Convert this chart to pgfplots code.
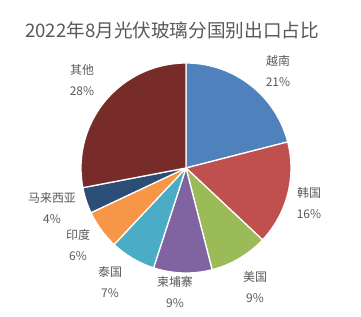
\documentclass[border=0pt]{standalone}
\usepackage{pgfplots}
\usepackage{pgfplotstable}
\pgfplotsset{compat=1.18}
\usepackage{fontspec}
\setmainfont{Noto Sans CJK SC}
\definecolor{c1}{HTML}{4F81BD}
\definecolor{c2}{HTML}{C0504D}
\definecolor{c3}{HTML}{9BBB59}
\definecolor{c4}{HTML}{8064A2}
\definecolor{c5}{HTML}{4BACC6}
\definecolor{c6}{HTML}{F79646}
\definecolor{c7}{HTML}{2C4D75}
\definecolor{c8}{HTML}{772C2A}
\definecolor{txt}{HTML}{595959}
\pgfplotstableread{
name pct col lx ly
越南 21 c1 278 61
韩国 16 c2 309 193
美国 9 c3 255 277
柬埔寨 9 c4 175 282
泰国 7 c5 110 272
印度 6 c6 78 235
马来西亚 4 c7 52 198
其他 28 c8 82 70
}\piedata
\begin{document}
\begin{tikzpicture}
\begin{axis}[
  scale only axis, width=361bp, height=317bp,
  xmin=0, xmax=361, ymin=0, ymax=317, y dir=reverse,
  hide axis, clip=false,
]
\pgfmathsetmacro\cum{0}
\pgfplotsforeachungrouped \i in {0,...,7}{%
  \pgfplotstablegetelem{\i}{pct}\of\piedata \let\v\pgfplotsretval
  \pgfplotstablegetelem{\i}{col}\of\piedata \let\c\pgfplotsretval
  \pgfplotstablegetelem{\i}{name}\of\piedata \let\n\pgfplotsretval
  \pgfplotstablegetelem{\i}{lx}\of\piedata \let\lx\pgfplotsretval
  \pgfplotstablegetelem{\i}{ly}\of\piedata \let\ly\pgfplotsretval
  \pgfmathsetmacro\a{90-3.6*\cum}%
  \pgfmathsetmacro\b{90-3.6*(\cum+\v)}%
  \pgfmathsetmacro\lyb{\ly+21}%
  \edef\temp{\noexpand\fill[\c, draw=white, line width=1.3pt, line join=round] (axis cs:186,168) -- ++(\a:105bp) arc[start angle=\a, end angle=\b, radius=105bp] -- cycle;
  \noexpand\node[text=txt, font=\noexpand\fontsize{12}{14}\noexpand\selectfont] at (axis cs:\lx,\ly) {\n};
  \noexpand\node[text=txt, font=\noexpand\fontsize{12}{14}\noexpand\selectfont] at (axis cs:\lx,\lyb) {\v\noexpand\%};}%
  \temp
  \pgfmathsetmacro\cum{\cum+\v}%
}
\node[text=txt, font=\fontsize{18.7}{21}\selectfont] at (axis cs:172,30) {2022年8月光伏玻璃分国别出口占比};
\end{axis}
\pgfresetboundingbox
\path (current axis.south west) rectangle (current axis.north east);
\end{tikzpicture}
\end{document}
